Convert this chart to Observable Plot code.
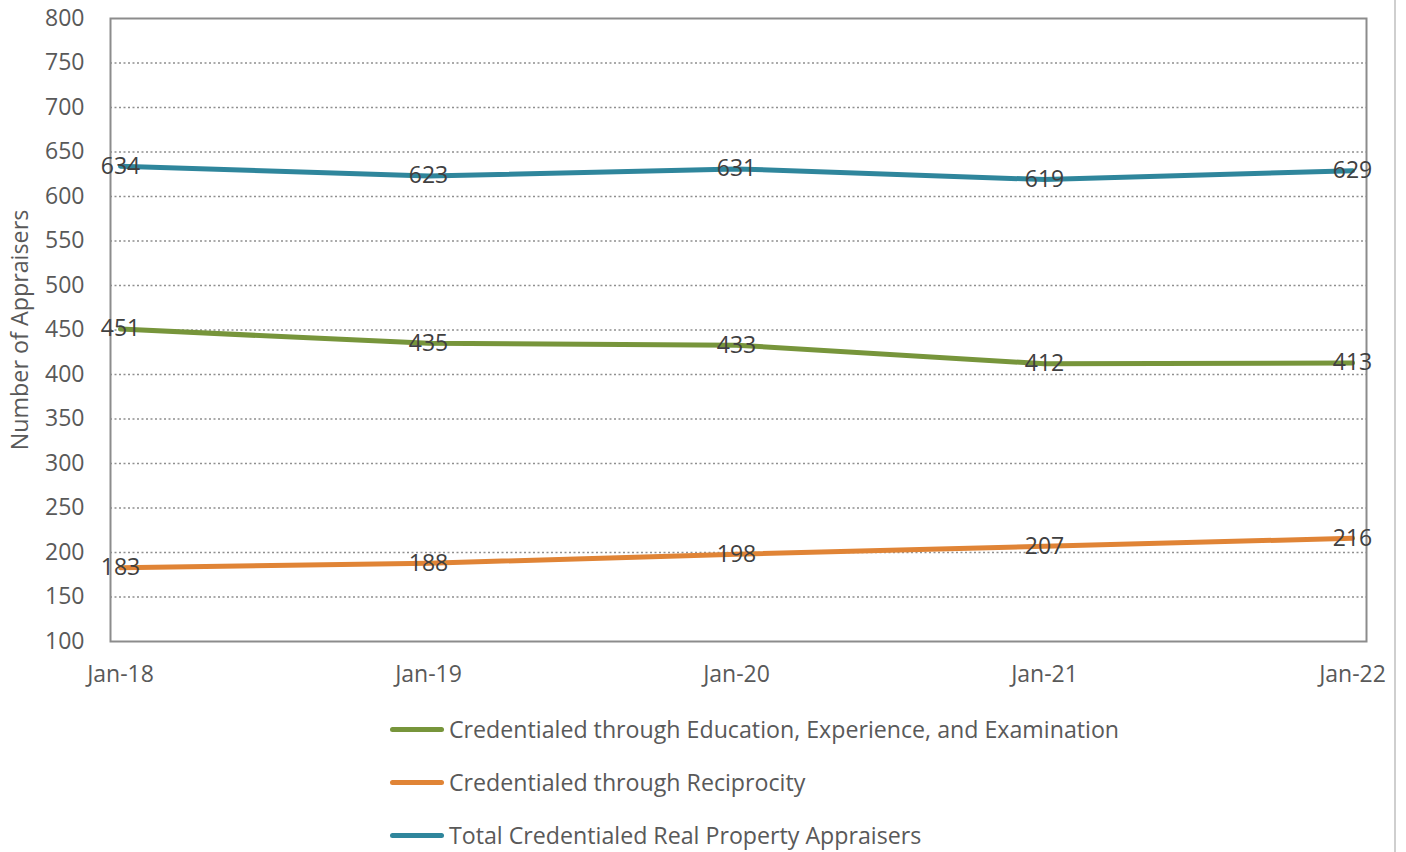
<!DOCTYPE html>
<html>
<head>
<meta charset="utf-8">
<script src="https://cdn.jsdelivr.net/npm/d3@7"></script>
<script src="https://cdn.jsdelivr.net/npm/@observablehq/plot@0.6"></script>
<style>
  html, body { margin: 0; padding: 0; background: #fff; }
  #wrap {
    position: relative; width: 1394px; height: 852px;
    border-right: 2px solid #cfcfcf; overflow: hidden;
    font-family: "Open Sans", sans-serif;
  }
  #chart { position: absolute; left: 0; top: 0; }
  .legend-item { position: absolute; left: 390px; height: 30px; display: flex; align-items: center; }
  .legend-item .sw { width: 54px; height: 5px; border-radius: 3px; margin-right: 5px; }
  .legend-item span { font-size: 23.2px; color: #595959; white-space: nowrap; }
</style>
</head>
<body>
<div id="wrap">
  <div id="chart"></div>
  <div id="legend"></div>
</div>
<script>
// Survey dates (January of each year)
const periods = ["Jan-18", "Jan-19", "Jan-20", "Jan-21", "Jan-22"];

// Appraiser counts by credential route
const education = [451, 435, 433, 412, 413];
const reciprocity = [183, 188, 198, 207, 216];
const total = [634, 623, 631, 619, 629];

const seriesNames = [
  "Credentialed through Education, Experience, and Examination",
  "Credentialed through Reciprocity",
  "Total Credentialed Real Property Appraisers"
];
const seriesColors = ["#77953b", "#e08436", "#2f869c"];
const seriesValues = [education, reciprocity, total];

const yTicks = [100, 150, 200, 250, 300, 350, 400, 450, 500, 550, 600, 650, 700, 750, 800];

const rows = seriesNames.flatMap((name, i) =>
  periods.map((p, j) => ({series: name, period: p, value: seriesValues[i][j]}))
);

const chart = Plot.plot({
  width: 1394,
  height: 700,
  marginLeft: 110,
  marginRight: 28,
  marginTop: 18,
  marginBottom: 59,
  style: {fontFamily: "Open Sans, sans-serif", fontSize: "23px", color: "#595959", background: "transparent"},
  x: {type: "point", domain: periods, padding: 0, insetLeft: 10, insetRight: 14, label: null},
  y: {domain: [100, 800], ticks: yTicks, label: null},
  color: {domain: seriesNames, range: seriesColors},
  marks: [
    Plot.gridY(yTicks.filter(t => t > 100 && t < 800), {stroke: "#8f8f8f", strokeOpacity: 1, strokeDasharray: "2,2.5", strokeWidth: 1.3}),
    Plot.frame({stroke: "#8c8c8c", strokeWidth: 2}),
    Plot.axisY({ticks: yTicks, tickSize: 0, tickPadding: 26, fontSize: 23, fill: "#595959", label: null}),
    Plot.axisX({tickSize: 0, tickPadding: 24, fontSize: 23, fill: "#595959", label: null}),
    Plot.text(["Number of Appraisers"], {frameAnchor: "left", textAnchor: "middle", dx: -90, rotate: -90, fontSize: 23.3, fill: "#595959"}),
    Plot.line(rows, {x: "period", y: "value", z: "series", stroke: "series", strokeWidth: 5, strokeLinejoin: "round"}),
    Plot.text(rows, {x: "period", y: "value", text: d => String(d.value), fill: "#404040", fontSize: 23})
  ]
});
document.getElementById("chart").appendChild(chart);

// Legend stacked below the plot
const legend = document.getElementById("legend");
const legendTops = [714, 767, 820];
seriesNames.forEach((name, i) => {
  const item = document.createElement("div");
  item.className = "legend-item";
  item.style.top = legendTops[i] + "px";
  item.innerHTML = `<div class="sw" style="background:${seriesColors[i]}"></div><span>${name}</span>`;
  legend.appendChild(item);
});
</script>
</body>
</html>
